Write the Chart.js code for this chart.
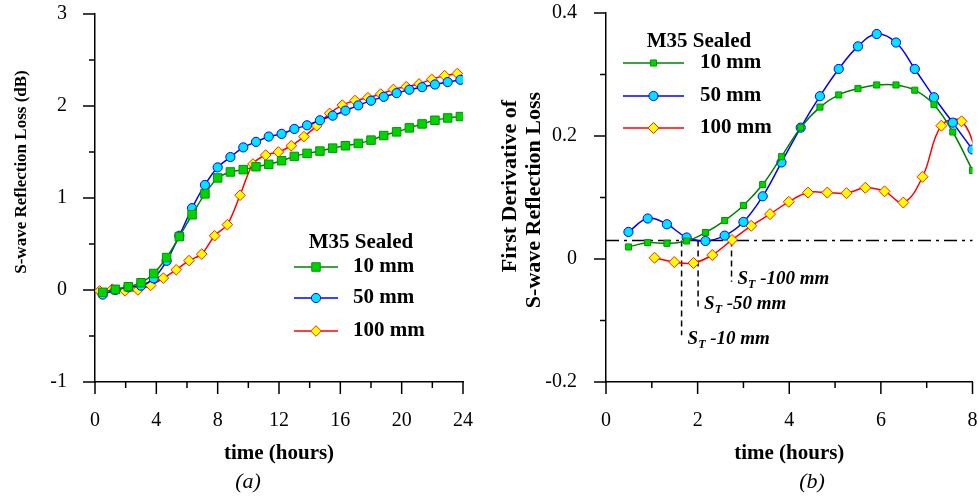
<!DOCTYPE html>
<html>
<head>
<meta charset="utf-8">
<script src="https://cdn.jsdelivr.net/npm/chart.js@4.4.0/dist/chart.umd.min.js"></script>
<style>
  body { margin: 0; background: #fff; }
  #wrap { position: relative; width: 979px; height: 499px; }
  #left { position: absolute; left: 0; top: 0; }
  #right { position: absolute; left: 490px; top: 0; }
</style>
</head>
<body>
<div id="wrap">
  <canvas id="left" width="490" height="499"></canvas>
  <canvas id="right" width="489" height="499"></canvas>
</div>
<script>
// (a) S-wave reflection loss (dB) against time
const timeA = [0.5, 1.33, 2.17, 3.0, 3.83, 4.67, 5.5, 6.33, 7.17, 8.0, 8.83, 9.67, 10.5, 11.33, 12.17,
  13.0, 13.83, 14.67, 15.5, 16.33, 17.17, 18.0, 18.83, 19.67, 20.5, 21.33, 22.17, 23.0, 23.83]
const lossA10 = [-0.025, 0.007, 0.036, 0.079, 0.18, 0.353, 0.58, 0.818, 1.045, 1.218, 1.283, 1.308, 1.34, 1.366, 1.405,
  1.452, 1.485, 1.51, 1.542, 1.568, 1.593, 1.629, 1.679, 1.719, 1.762, 1.805, 1.845, 1.87, 1.885]
const lossA50 = [-0.05, 0.0, 0.03, 0.047, 0.126, 0.317, 0.59, 0.89, 1.142, 1.333, 1.445, 1.55, 1.61, 1.668, 1.697,
  1.751, 1.79, 1.845, 1.895, 1.95, 2.007, 2.058, 2.1, 2.14, 2.177, 2.205, 2.234, 2.26, 2.285]
const timeA100 = [0.3, 1.13, 1.96, 2.8, 3.63, 4.46, 5.3, 6.13, 6.96, 7.8, 8.63, 9.46, 10.3, 11.13, 11.96,
  12.8, 13.63, 14.46, 15.3, 16.13, 16.96, 17.8, 18.63, 19.46, 20.3, 21.13, 21.96, 22.8, 23.63]
const lossA100 = [-0.01, 0.01, -0.01, 0.0, 0.05, 0.13, 0.22, 0.32, 0.39, 0.59, 0.71, 1.03, 1.37, 1.467, 1.5,
  1.568, 1.668, 1.784, 1.92, 2.01, 2.06, 2.09, 2.13, 2.18, 2.21, 2.24, 2.29, 2.33, 2.353]

// (b) first derivative of the reflection loss
const timeB = [0.49, 0.91, 1.33, 1.76, 2.17, 2.59, 3.0, 3.42, 3.83, 4.25, 4.67, 5.08, 5.5, 5.91, 6.33, 6.74, 7.16, 7.57, 8.0]
const derivB10 = [0.0196, 0.0266, 0.0255, 0.0293, 0.043, 0.0625, 0.087, 0.121, 0.1663, 0.2136, 0.247, 0.2668, 0.277,
  0.283, 0.283, 0.2745, 0.251, 0.2065, 0.144]
const derivB50 = [0.044, 0.0658, 0.0565, 0.035, 0.0293, 0.038, 0.0603, 0.102, 0.157, 0.2136, 0.2647, 0.309, 0.3457,
  0.3658, 0.352, 0.309, 0.263, 0.2217, 0.178]
const timeB100 = [1.06, 1.49, 1.91, 2.32, 2.75, 3.17, 3.58, 3.99, 4.41, 4.83, 5.25, 5.66, 6.08, 6.49, 6.91, 7.32, 7.76, 8.15]
const derivB100 = [0.002, -0.005, -0.0065, 0.0065, 0.031, 0.054, 0.073, 0.093, 0.108, 0.108, 0.107, 0.1158, 0.11,
  0.0918, 0.1337, 0.2168, 0.2239, 0.16]

// onset times S_T where the derivative passes the threshold
const threshold = 0.03
const onsetNames = ['10 mm', '50 mm', '100 mm']
const onsetTimes = [1.65, 2.01, 2.74]
const onsetEnds = [-0.124, -0.08, -0.037]
const onsetTextY = [-0.138, -0.081, -0.041]

const seriesNames = ['10 mm', '50 mm', '100 mm']
const legendTitle = 'M35 Sealed'
const xTitle = 'time (hours)'
const serif = '"Liberation Serif", "Times New Roman", serif'

const styles = [
  { line: '#008000', fill: '#00d400', edge: '#009400', shape: 'rect' },
  { line: '#0000ff', fill: '#00e5ff', edge: '#0000ff', shape: 'circle' },
  { line: '#ff0000', fill: '#ffff00', edge: '#ff2000', shape: 'rectRot' }
]

const pts = (xs, ys) => xs.map((x, i) => ({ x: x, y: ys[i] }))
const isMajor = (v, step) => Math.abs(v / step - Math.round(v / step)) < 1e-6

function makeSets(data, radii, tension) {
  return data.map((d, i) => ({
    label: seriesNames[i],
    data: d,
    borderColor: styles[i].line,
    borderWidth: 1.5,
    pointStyle: styles[i].shape,
    pointRadius: radii[i],
    pointHoverRadius: radii[i],
    pointBackgroundColor: styles[i].fill,
    pointBorderColor: styles[i].edge,
    pointBorderWidth: 1,
    tension: tension
  }))
}

function axis(min, max, step, major, size, pad, isX) {
  return {
    type: 'linear',
    min: min,
    max: max,
    border: { display: true, color: '#000', width: 1.5 },
    grid: { display: false, drawTicks: false },
    ticks: {
      stepSize: step,
      padding: pad,
      color: '#000',
      font: { family: serif, size: 20 },
      callback: v => isMajor(v, major) ? String(Math.round(v * 10) / 10) : ''
    },
    title: {
      display: isX,
      text: xTitle,
      color: '#000',
      font: { family: serif, size: 21, weight: 'bold' },
      padding: { top: 0, bottom: 33 }
    },
    afterFit: s => {
      if (isX) s.height = size; else s.width = size
      // the layout padding already leaves room for the end labels
      s.paddingTop = s.paddingBottom = s.paddingLeft = s.paddingRight = 0
    }
  }
}

// major / minor tick marks pointing outwards
const tickMarks = {
  id: 'tickMarks',
  afterDraw(chart, args, opts) {
    const ctx = chart.ctx
    ctx.save()
    ctx.strokeStyle = '#000'
    ctx.lineWidth = 1.5
    for (const id of ['x', 'y']) {
      const s = chart.scales[id]
      for (const t of s.ticks) {
        const len = isMajor(t.value, opts[id]) ? 12 : 6
        const p = s.getPixelForValue(t.value)
        ctx.beginPath()
        if (id === 'x') { ctx.moveTo(p, s.top); ctx.lineTo(p, s.top + len) }
        else { ctx.moveTo(s.right - len, p); ctx.lineTo(s.right, p) }
        ctx.stroke()
      }
    }
    ctx.restore()
  }
}

// legend box inside the plot
const boxLegend = {
  id: 'boxLegend',
  afterDatasetsDraw(chart, args, o) {
    const ctx = chart.ctx
    const a = chart.chartArea
    ctx.save()
    ctx.fillStyle = '#000'
    ctx.font = 'bold 21px ' + serif
    ctx.textBaseline = 'middle'
    ctx.textAlign = 'center'
    ctx.fillText(legendTitle, a.left + o.titleX, a.top + o.titleY)
    ctx.textAlign = 'left'
    chart.data.datasets.forEach((ds, i) => {
      const y = a.top + o.rowY[i]
      ctx.strokeStyle = ds.borderColor
      ctx.lineWidth = 1.5
      ctx.beginPath()
      ctx.moveTo(a.left + o.lineX[0], y)
      ctx.lineTo(a.left + o.lineX[1], y)
      ctx.stroke()
      ctx.fillStyle = ds.pointBackgroundColor
      ctx.strokeStyle = ds.pointBorderColor
      ctx.lineWidth = 1
      Chart.helpers.drawPoint(ctx, { pointStyle: ds.pointStyle, radius: ds.pointRadius, borderWidth: 1, rotation: 0 },
        a.left + (o.lineX[0] + o.lineX[1]) / 2, y)
      ctx.fillStyle = '#000'
      ctx.fillText(ds.label, a.left + o.textX, y)
    })
    ctx.restore()
  }
}

// rotated y titles and panel letters
const extraText = {
  id: 'extraText',
  afterDraw(chart, args, o) {
    const ctx = chart.ctx
    ctx.save()
    ctx.fillStyle = '#000'
    ctx.textAlign = 'center'
    ctx.textBaseline = 'middle'
    ctx.font = 'bold ' + o.ySize + 'px ' + serif
    o.yTitle.forEach((t, i) => {
      ctx.save()
      ctx.translate(o.yTitleX[i], o.yTitleY[i])
      ctx.rotate(-Math.PI / 2)
      ctx.fillText(t, 0, 0)
      ctx.restore()
    })
    ctx.font = 'italic 22px ' + serif
    ctx.fillText(o.panel, o.panelX, o.panelY)
    ctx.restore()
  }
}

// threshold line and S_T markers in (b)
const onsetMarks = {
  id: 'onsetMarks',
  beforeDatasetsDraw(chart) {
    const ctx = chart.ctx
    const x = chart.scales.x
    const y = chart.scales.y
    const ty = y.getPixelForValue(threshold)
    ctx.save()
    ctx.strokeStyle = '#000'
    ctx.lineWidth = 1.5
    ctx.setLineDash([13, 5, 3, 5])
    ctx.beginPath()
    ctx.moveTo(x.getPixelForValue(x.min), ty)
    ctx.lineTo(x.getPixelForValue(x.max), ty)
    ctx.stroke()
    ctx.setLineDash([6, 4])
    ctx.fillStyle = '#000'
    ctx.textAlign = 'left'
    ctx.textBaseline = 'alphabetic'
    onsetTimes.forEach((t, i) => {
      const px = x.getPixelForValue(t)
      ctx.beginPath()
      ctx.moveTo(px, ty)
      ctx.lineTo(px, y.getPixelForValue(onsetEnds[i]))
      ctx.stroke()
      let tx = px + 6
      const by = y.getPixelForValue(onsetTextY[i])
      ctx.font = 'italic bold 19px ' + serif
      ctx.fillText('S', tx, by)
      tx += ctx.measureText('S').width
      ctx.font = 'italic bold 12px ' + serif
      ctx.fillText('T', tx, by + 4)
      tx += ctx.measureText('T').width
      ctx.font = 'italic bold 19px ' + serif
      ctx.fillText(' -' + onsetNames[i], tx, by)
    })
    ctx.restore()
  }
}

new Chart(document.getElementById('left'), {
  type: 'line',
  data: {
    datasets: makeSets([pts(timeA, lossA10), pts(timeA, lossA50), pts(timeA100, lossA100)], [6, 4.6, 5.3], 0.3)
  },
  options: {
    responsive: false,
    animation: false,
    events: [],
    layout: { padding: { top: 14, right: 27, left: 0, bottom: 0 } },
    scales: {
      x: axis(0, 24, 2, 4, 117, 27, true),
      y: axis(-1, 3, 0.5, 1, 95, 28, false)
    },
    plugins: {
      legend: { display: false },
      tooltip: { enabled: false },
      tickMarks: { x: 4, y: 1 },
      boxLegend: { titleX: 266, titleY: 229, lineX: [199, 243], rowY: [253, 284, 317], textX: 258 },
      extraText: { yTitle: ['S-wave Reflection Loss (dB)'], yTitleX: [22], yTitleY: [172], ySize: 17,
        panel: '(a)', panelX: 248, panelY: 482 }
    }
  },
  plugins: [tickMarks, boxLegend, extraText]
})

new Chart(document.getElementById('right'), {
  type: 'line',
  data: {
    datasets: makeSets([pts(timeB, derivB10), pts(timeB, derivB50), pts(timeB100, derivB100)], [4.3, 4.6, 5.5], 0.4)
  },
  options: {
    responsive: false,
    animation: false,
    events: [],
    layout: { padding: { top: 13, right: 6, left: 0, bottom: 0 } },
    scales: {
      x: axis(0, 8, 1, 2, 117, 27, true),
      y: axis(-0.2, 0.4, 0.1, 0.2, 116, 29, false)
    },
    plugins: {
      legend: { display: false },
      tooltip: { enabled: false },
      tickMarks: { x: 2, y: 0.2 },
      boxLegend: { titleX: 93, titleY: 29, lineX: [17, 78], rowY: [50, 83, 115], textX: 94 },
      extraText: { yTitle: ['First Derivative of', 'S-wave Reflection Loss'], yTitleX: [20, 44], yTitleY: [186, 200],
        ySize: 22, panel: '(b)', panelX: 322, panelY: 482 }
    }
  },
  plugins: [tickMarks, boxLegend, onsetMarks, extraText]
})
</script>
</body>
</html>
